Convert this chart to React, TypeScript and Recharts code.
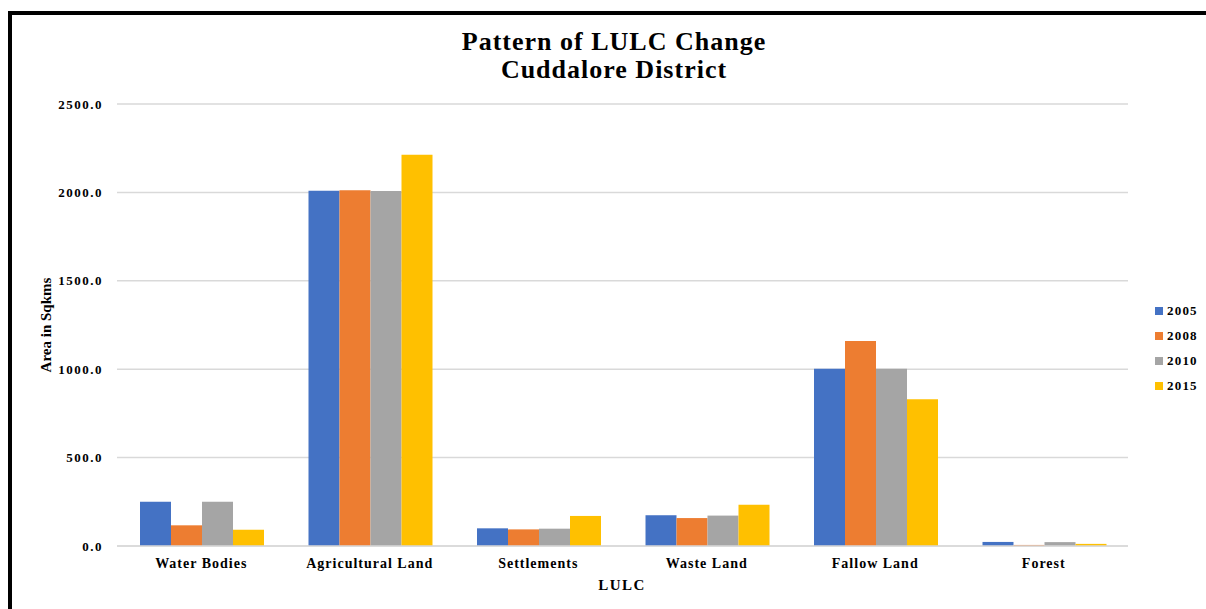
import React from 'react';
import { BarChart, Bar, XAxis, YAxis, CartesianGrid, Legend } from 'recharts';

const categories = ['Water Bodies', 'Agricultural Land', 'Settlements', 'Waste Land', 'Fallow Land', 'Forest'];
const y2005 = [250, 2010, 100, 174, 1003, 23];
const y2008 = [117, 2012, 94, 158, 1160, 6];
const y2010 = [250, 2008, 98, 172, 1003, 22];
const y2015 = [92, 2213, 170, 234, 830, 12];
const yTicks = [0, 500, 1000, 1500, 2000, 2500];

const SERIES = [
  { key: '2005', color: '#4472C4' },
  { key: '2008', color: '#ED7D31' },
  { key: '2010', color: '#A5A5A5' },
  { key: '2015', color: '#FFC000' },
];

const FONT = '"Liberation Serif", "Times New Roman", serif';

const data = categories.map((name, i) => ({
  name,
  '2005': y2005[i],
  '2008': y2008[i],
  '2010': y2010[i],
  '2015': y2015[i],
}));

function LegendBox() {
  return (
    <div style={{ fontFamily: FONT, fontWeight: 'bold', fontSize: 13, letterSpacing: 1.2, color: '#000' }}>
      {SERIES.map((s) => (
        <div key={s.key} style={{ display: 'flex', alignItems: 'center', height: 25 }}>
          <span style={{ width: 8, height: 8, background: s.color, marginRight: 4, display: 'inline-block' }} />
          {s.key}
        </div>
      ))}
    </div>
  );
}

export default function App() {
  return (
    <div style={{ position: 'absolute', left: 0, top: 0, width: 1206, height: 609, background: '#fff', overflow: 'hidden' }}>
      {/* partial frame, cropped like the source image */}
      <div
        style={{
          position: 'absolute',
          left: 8,
          top: 11,
          width: 1300,
          height: 700,
          borderTop: '4px solid #000',
          borderLeft: '4px solid #000',
        }}
      />
      <div
        style={{
          position: 'absolute',
          left: 0,
          width: 1228,
          top: 28,
          textAlign: 'center',
          fontFamily: FONT,
          fontWeight: 'bold',
          fontSize: 26,
          letterSpacing: 1,
          lineHeight: '28px',
          color: '#000',
        }}
      >
        Pattern of LULC Change
        <br />
        Cuddalore District
      </div>
      <div
        style={{
          position: 'absolute',
          left: 46,
          top: 325,
          transform: 'translate(-50%, -50%) rotate(-90deg)',
          whiteSpace: 'nowrap',
          fontFamily: FONT,
          fontWeight: 'bold',
          fontSize: 15,
          color: '#000',
        }}
      >
        Area in Sqkms
      </div>
      <div
        style={{
          position: 'absolute',
          left: 622,
          top: 585,
          transform: 'translate(-50%, -50%)',
          fontFamily: FONT,
          fontWeight: 'bold',
          fontSize: 15,
          letterSpacing: 1.5,
          color: '#000',
        }}
      >
        LULC
      </div>
      <div style={{ position: 'absolute', left: 0, top: 0 }}>
        <BarChart
          width={1206}
          height={609}
          data={data}
          margin={{ top: 104, right: 18, bottom: 33, left: 57 }}
          barCategoryGap={23}
          barGap={0}
        >
          <CartesianGrid vertical={false} stroke="#d9d9d9" strokeWidth={1.5} />
          <XAxis
            dataKey="name"
            height={30}
            axisLine={{ stroke: '#d9d9d9', strokeWidth: 1.5 }}
            tickLine={false}
            tickSize={0}
            tickMargin={12}
            interval={0}
            tick={{ fontFamily: FONT, fontWeight: 'bold', fontSize: 14, letterSpacing: 1, fill: '#000' }}
          />
          <YAxis
            width={60}
            domain={[0, 2500]}
            ticks={yTicks}
            axisLine={false}
            tickLine={false}
            tickSize={0}
            tickMargin={14}
            tickFormatter={(v: number) => v.toFixed(1)}
            tick={{ fontFamily: FONT, fontWeight: 'bold', fontSize: 13, letterSpacing: 1.5, fill: '#000' }}
          />
          <Legend
            layout="vertical"
            align="right"
            verticalAlign="top"
            content={<LegendBox />}
            wrapperStyle={{ left: 1155, top: 298, width: 60 }}
          />
          {SERIES.map((s) => (
            <Bar key={s.key} dataKey={s.key} fill={s.color} isAnimationActive={false} />
          ))}
        </BarChart>
      </div>
    </div>
  );
}
